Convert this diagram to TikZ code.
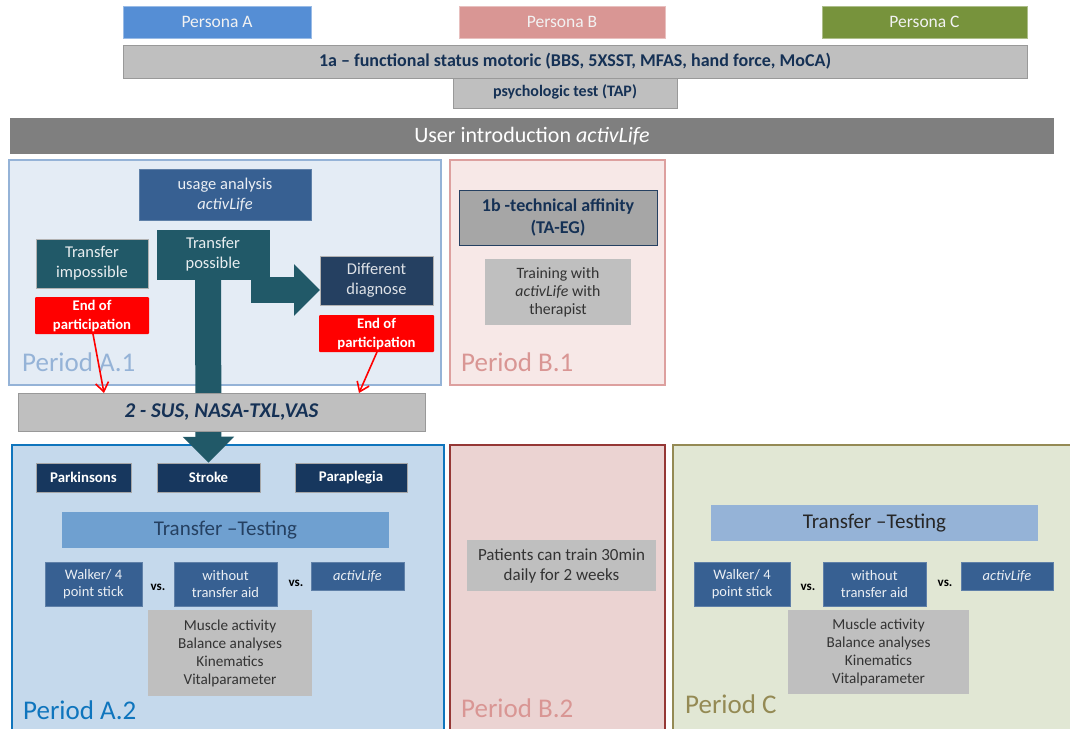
\documentclass[tikz,border=0pt]{standalone}
\usepackage{fontspec}
\setmainfont{Carlito}
\usetikzlibrary{arrows.meta}
\definecolor{pa}{HTML}{558ED5}
\definecolor{pb}{HTML}{D99694}
\definecolor{pc}{HTML}{77933C}
\definecolor{grayb}{HTML}{BFBFBF}
\definecolor{grayd}{HTML}{7F7F7F}
\definecolor{navy}{HTML}{17375E}
\definecolor{navyb}{HTML}{254061}
\definecolor{blueb}{HTML}{376092}
\definecolor{teal}{HTML}{215968}
\definecolor{light}{HTML}{6FA0D0}
\definecolor{lt}{HTML}{95B3D7}
\definecolor{fa2c}{HTML}{0F75BD}
\definecolor{fb2c}{HTML}{953735}
\definecolor{fcc}{HTML}{948A54}
\tikzset{
  x=1pt,y=-1pt,
  base/.style={inner sep=0pt,align=center,text=white,font=\fontsize{16.5}{20}\selectfont},
  persona/.style={base,text=white!90!gray,font=\fontsize{17.5}{20}\selectfont},
  graybox/.style={base,fill=grayb,draw=gray!80,line width=.5pt,text=navy!90!black,font=\fontsize{14}{18}\selectfont\bfseries},
  metric/.style={base,fill=grayb,text=black!80,font=\fontsize{15.2}{18}\selectfont},
  bluebox/.style={base,fill=blueb,draw=blueb!80,line width=.5pt,text=white!90!blueb,font=\fontsize{14.5}{16.5}\selectfont},
  tealbox/.style={base,fill=teal,draw=gray!60,line width=.5pt,text=white!90!teal,font=\fontsize{16.5}{20}\selectfont},
  redbox/.style={base,fill=red,rounded corners=1pt,text=white,font=\fontsize{14.7}{19}\selectfont\bfseries},
  dis/.style={base,fill=navy,draw=gray!70,line width=.5pt,font=\fontsize{14.8}{16}\selectfont\bfseries},
  frame/.style={line width=2pt},
  periodlab/.style={anchor=west,inner sep=0pt,font=\fontsize{27}{30}\selectfont},
  vslab/.style={inner sep=0pt,text=black,font=\fontsize{13}{14}\selectfont\bfseries},
  bigarrow/.style={teal,line width=26pt,-{Triangle[length=26pt,width=50pt]}},
  redarrow/.style={red,line width=1.6pt,-{Straight Barb[length=9pt,width=13pt]}},
}
\newcommand{\bx}[7]{%
  \pgfmathsetmacro{\cxx}{(#3+#5)/2}\pgfmathsetmacro{\cyy}{(#4+#6)/2}%
  \pgfmathsetmacro{\wdd}{#5-#3}\pgfmathsetmacro{\htt}{#6-#4}%
  \node[#2,minimum width=\wdd pt,minimum height=\htt pt] (#1) at (\cxx,\cyy) {#7};}
\begin{document}
\begin{tikzpicture}
\useasboundingbox (0,0) rectangle (1070,728);
\fill[white] (0,0) rectangle (1070,728);
% frames
\begin{scope}
\clip (0,0) rectangle (1070,728);
\bx{fa1}{frame,draw=lt,fill=lt!25!white}{9}{160}{441}{385}{}
\bx{fb1}{frame,draw=pb!90!white,fill=pb!22!white}{450}{160}{665}{385}{}
\bx{fa2}{frame,draw=fa2c,fill=light!40!white}{12}{445}{444}{740}{}
\bx{fb2}{frame,draw=fb2c,fill=pb!38!white!95!gray}{450}{445}{665}{740}{}
\bx{fc}{frame,draw=fcc,fill=pc!22!white}{673}{445}{1080}{740}{}
\end{scope}
% top
\bx{pA}{persona,fill=pa,draw=pa!60}{123}{6}{311}{38}{Persona A}
\bx{pB}{persona,fill=pb,draw=pb!60}{459}{6}{665}{38}{Persona B}
\bx{pC}{persona,fill=pc,draw=pc!60}{822}{6}{1027}{38}{Persona C}
\bx{psy}{graybox,font=\fontsize{16}{18}\selectfont\bfseries}{453}{75}{677}{108}{psychologic test (TAP)}
\bx{fs}{graybox,font=\fontsize{18}{20}\selectfont\bfseries}{123}{45}{1027}{78}{1a -- functional status motoric (BBS, 5XSST, MFAS, hand force, MoCA)}
\bx{ui}{base,fill=grayd,font=\fontsize{22}{24}\selectfont}{10}{118}{1054}{154}{User introduction \textit{activLife}}
% period labels
\node[periodlab,text=lt] (la1) at (22,362) {Period A.1};
\node[periodlab,text=pb] (lb1) at (461,362) {Period B.1};
\node[periodlab,text=fa2c] (la2) at (23,710) {Period A.2};
\node[periodlab,text=pb] (lb2) at (461,708) {Period B.2};
\node[periodlab,text=fcc] (lc) at (685,704) {Period C};
% period A.1
\bx{ua}{bluebox,font=\fontsize{16.5}{20}\selectfont}{139}{169}{311}{220}{usage analysis\\\textit{activLife}}
\bx{ti}{tealbox}{36}{239}{148}{288}{Transfer\\impossible}
\bx{dd}{base,fill=navyb,draw=gray!60,line width=.5pt,text=white!85!navyb,font=\fontsize{16.5}{20}\selectfont}{320}{256}{433}{305}{Different\\diagnose}
\bx{stroke}{dis}{157}{463}{260}{492}{Stroke}
\coordinate (tpsrc) at (251,290);
\coordinate (ddin) at (320,290);
\coordinate (shafttop) at (208,270);
\draw[bigarrow] (shafttop) -- (stroke.north);
\draw[bigarrow] (tpsrc) -- (ddin);
\bx{tp}{tealbox,draw=teal}{157}{230}{269}{279}{Transfer\\possible}
\bx{ep1}{redbox}{35}{297}{149}{334}{End of\\participation}
\bx{ep2}{redbox}{319}{315}{434}{352}{End of\\participation}
\bx{sus}{graybox,font=\fontsize{21}{24}\selectfont\bfseries\itshape}{18}{393}{425}{431}{2 - SUS, NASA-TXL,VAS}
\coordinate (s1) at (104,393);
\coordinate (s2) at (359,393);
\coordinate (e1) at (93,334);
\coordinate (e2) at (377,352);
\draw[redarrow] (e1) -- (s1);
\draw[redarrow] (e2) -- (s2);
% period B.1
\bx{ta}{graybox,fill=gray!70!white,draw=navyb,font=\fontsize{18}{22}\selectfont\bfseries}{459}{190}{657}{245}{1b -technical affinity\\(TA-EG)}
\bx{tr}{metric,font=\fontsize{15.8}{18}\selectfont}{485}{259}{631}{325}{Training with\\\textit{activLife} with\\therapist}
% period A.2
\bx{par}{dis}{36}{463}{131}{492}{Parkinsons}
\bx{pl}{dis}{295}{463}{407}{492}{Paraplegia}
\bx{tt1}{base,fill=light,text=navyb,font=\fontsize{21}{24}\selectfont}{62}{512}{389}{548}{Transfer --Testing}
\bx{w1}{bluebox}{45}{562}{142}{606}{Walker/ 4\\point stick}
\bx{wo1}{bluebox}{174}{562}{277}{606}{without\\transfer aid}
\bx{al1}{bluebox}{311}{562}{404}{590}{\textit{activLife}}
\node[vslab] (v1) at (158,587) {vs.};
\node[vslab] (v2) at (296,583) {vs.};
\bx{m1}{metric}{148}{610}{312}{696}{Muscle activity\\Balance analyses\\Kinematics\\Vitalparameter}
% period B.2
\bx{tr2}{metric,font=\fontsize{17}{20}\selectfont}{467}{540}{656}{591}{Patients can train 30min\\daily for 2 weeks}
% period C
\bx{tt2}{base,fill=lt,text=black!85,font=\fontsize{21}{24}\selectfont}{711}{505}{1038}{541}{Transfer --Testing}
\bx{w2}{bluebox}{694}{562}{790}{606}{Walker/ 4\\point stick}
\bx{wo2}{bluebox}{823}{562}{926}{606}{without\\transfer aid}
\bx{al2}{bluebox}{961}{562}{1053}{590}{\textit{activLife}}
\node[vslab] (v3) at (808,587) {vs.};
\node[vslab] (v4) at (945,583) {vs.};
\bx{m2}{metric}{788}{610}{969}{694}{Muscle activity\\Balance analyses\\Kinematics\\Vitalparameter}
\end{tikzpicture}
\end{document}
